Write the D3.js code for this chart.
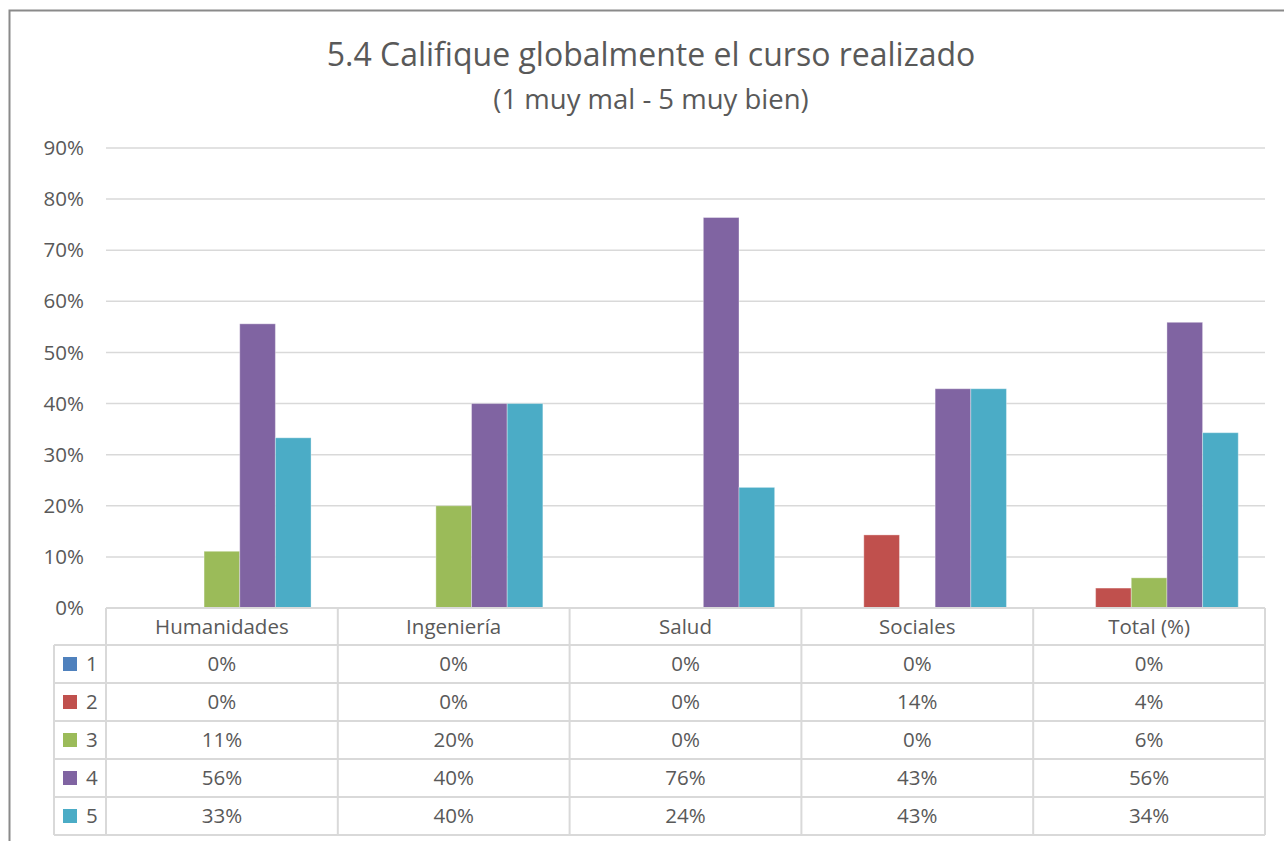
<!DOCTYPE html>
<html>
<head>
<meta charset="utf-8">
<script src="https://cdn.jsdelivr.net/npm/d3@7"></script>
<style>
  body { margin: 0; background: #fff; }
  text { font-family: "Open Sans", "Noto Sans", sans-serif; fill: #595959; }
</style>
</head>
<body>
<script>
// data
var categories = ['Humanidades', 'Ingeniería', 'Salud', 'Sociales', 'Total (%)'];
var seriesNames = ['1', '2', '3', '4', '5'];
var seriesColors = ['#4F81BD', '#C0504D', '#9BBB59', '#8064A2', '#4BACC6'];
var s1 = [0, 0, 0, 0, 0];
var s2 = [0, 0, 0, 0.143, 0.039];
var s3 = [0.111, 0.20, 0, 0, 0.059];
var s4 = [0.556, 0.40, 0.764, 0.429, 0.559];
var s5 = [0.333, 0.40, 0.236, 0.429, 0.343];
var seriesValues = [s1, s2, s3, s4, s5];
var yTicks = [0, 0.1, 0.2, 0.3, 0.4, 0.5, 0.6, 0.7, 0.8, 0.9];

var width = 1284;
var height = 841;
var plotLeft = 106, plotRight = 1265, plotTop = 148, plotBottom = 608;
var rowH = 38, headerH = 37, legendLeft = 54;
var labelSize = '20.5px';

var svg = d3.select('body').append('svg')
  .attr('width', width)
  .attr('height', height);

// chart frame
svg.append('rect')
  .attr('x', 9.5).attr('y', 10.5)
  .attr('width', width + 10).attr('height', height + 10)
  .attr('fill', 'none')
  .attr('stroke', '#8a8a8a')
  .attr('stroke-width', 2);

// titles
svg.append('text')
  .attr('x', 651).attr('y', 66)
  .attr('text-anchor', 'middle')
  .style('font-size', '32px')
  .text('5.4 Califique globalmente el curso realizado');

svg.append('text')
  .attr('x', 651).attr('y', 109)
  .attr('text-anchor', 'middle')
  .style('font-size', '27.5px')
  .text('(1 muy mal - 5 muy bien)');

var x = d3.scaleBand()
  .domain(categories)
  .range([plotLeft, plotRight]);

var barW = x.bandwidth() / 6.5;
var xs = d3.scaleBand()
  .domain(seriesNames)
  .range([(x.bandwidth() - 5 * barW) / 2, (x.bandwidth() + 5 * barW) / 2]);

var y = d3.scaleLinear()
  .domain([0, 0.9])
  .range([plotBottom, plotTop]);

// gridlines
svg.append('g').selectAll('line')
  .data(yTicks)
  .enter().append('line')
  .attr('x1', plotLeft).attr('x2', plotRight)
  .attr('y1', function(d) { return y(d); })
  .attr('y2', function(d) { return y(d); })
  .attr('stroke', '#d9d9d9')
  .attr('stroke-width', 1.5);

// y axis labels
var yAxis = d3.axisLeft(y)
  .tickValues(yTicks)
  .tickFormat(d3.format('.0%'))
  .tickSize(0)
  .tickPadding(0);

var yg = svg.append('g')
  .attr('transform', 'translate(84,0)')
  .call(yAxis);
yg.select('.domain').remove();
yg.selectAll('text')
  .style('font-size', labelSize)
  .style('font-family', '"Open Sans", "Noto Sans", sans-serif')
  .attr('fill', '#595959');

// bars
var groups = svg.append('g').selectAll('g')
  .data(seriesValues)
  .enter().append('g')
  .attr('fill', function(d, i) { return seriesColors[i]; });

groups.selectAll('rect')
  .data(function(d, i) {
    return d.map(function(v, j) { return {cat: categories[j], s: seriesNames[i], v: v}; });
  })
  .enter().append('rect')
  .filter(function(d) { return d.v > 0; })
  .attr('x', function(d) { return x(d.cat) + xs(d.s); })
  .attr('y', function(d) { return y(d.v); })
  .attr('width', xs.bandwidth())
  .attr('height', function(d) { return y(0) - y(d.v); })
  .attr('stroke', 'rgba(255,255,255,0.35)')
  .attr('stroke-width', 1);

// data table
var fmt = d3.format('.0%');
var table = svg.append('g');
var tableTop = plotBottom;
var tableBottom = tableTop + headerH + 5 * rowH;
var lineColor = '#d9d9d9';

// header labels
table.selectAll('text.cat')
  .data(categories)
  .enter().append('text')
  .attr('class', 'cat')
  .attr('x', function(d) { return x(d) + x.bandwidth() / 2; })
  .attr('y', tableTop + headerH / 2 + 7)
  .attr('text-anchor', 'middle')
  .style('font-size', labelSize)
  .text(function(d) { return d; });

// horizontal lines
var hLines = [tableTop + headerH];
for (var r = 1; r <= 5; r++) hLines.push(tableTop + headerH + r * rowH);
table.append('line')
  .attr('x1', plotLeft).attr('x2', plotRight)
  .attr('y1', tableTop).attr('y2', tableTop)
  .attr('stroke', lineColor).attr('stroke-width', 2);
table.selectAll('line.h')
  .data(hLines)
  .enter().append('line')
  .attr('class', 'h')
  .attr('x1', legendLeft).attr('x2', plotRight)
  .attr('y1', function(d) { return d; })
  .attr('y2', function(d) { return d; })
  .attr('stroke', lineColor).attr('stroke-width', 2);

// vertical lines
var vLines = categories.map(function(c) { return x(c); }).concat([plotRight]);
table.selectAll('line.v')
  .data(vLines)
  .enter().append('line')
  .attr('class', 'v')
  .attr('x1', function(d) { return d; })
  .attr('x2', function(d) { return d; })
  .attr('y1', tableTop).attr('y2', tableBottom)
  .attr('stroke', lineColor).attr('stroke-width', 2);
table.append('line')
  .attr('x1', legendLeft).attr('x2', legendLeft)
  .attr('y1', tableTop + headerH).attr('y2', tableBottom)
  .attr('stroke', lineColor).attr('stroke-width', 2);

// rows
var rows = table.selectAll('g.row')
  .data(seriesValues)
  .enter().append('g')
  .attr('class', 'row')
  .attr('transform', function(d, i) {
    return 'translate(0,' + (tableTop + headerH + i * rowH) + ')';
  });

rows.append('rect')
  .attr('x', 63).attr('y', rowH / 2 - 7)
  .attr('width', 14).attr('height', 14)
  .attr('fill', function(d, i) { return seriesColors[i]; });

rows.append('text')
  .attr('x', 86).attr('y', rowH / 2 + 7)
  .style('font-size', labelSize)
  .text(function(d, i) { return seriesNames[i]; });

rows.selectAll('text.val')
  .data(function(d) { return d; })
  .enter().append('text')
  .attr('class', 'val')
  .attr('x', function(d, j) { return x(categories[j]) + x.bandwidth() / 2; })
  .attr('y', rowH / 2 + 7)
  .attr('text-anchor', 'middle')
  .style('font-size', labelSize)
  .text(function(d) { return fmt(d); });
</script>
</body>
</html>
